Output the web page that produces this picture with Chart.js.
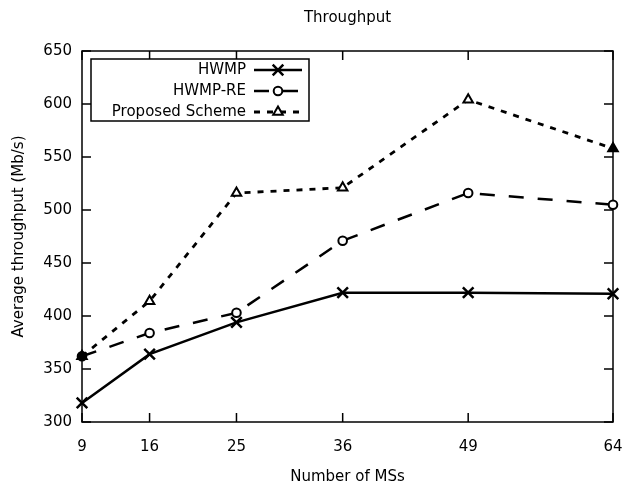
<!DOCTYPE html>
<html><head><meta charset="utf-8">
<script src="https://cdn.jsdelivr.net/npm/chart.js@4.4.1/dist/chart.umd.min.js"></script>
<style>html,body{margin:0;padding:0;background:#fff}</style>
</head><body>
<canvas id="c" width="623" height="484" style="display:block;width:623px;height:484px"></canvas>
<script>
const categories = [9, 16, 25, 36, 49, 64];
const hwmp = [318, 364, 394, 422, 422, 421];
const hwmpRe = [362, 384, 403, 471, 516, 505];
const proposed = [362, 414, 516, 521, 604, 558];
const yTicks = [300, 350, 400, 450, 500, 550, 600, 650];
const seriesNames = ['HWMP', 'HWMP-RE', 'Proposed Scheme'];
const chartTitle = 'Throughput';

const FONT = {family: 'DejaVu Sans', size: 15};
const TICKFONT = {family: 'DejaVu Sans', size: 15};
Chart.defaults.font.family = 'DejaVu Sans';
Chart.defaults.color = '#000';

function pts(vals) { return categories.map((c, i) => ({x: c, y: vals[i]})); }

const framePlugin = {
  id: 'frame',
  beforeDatasetsDraw(chart) {
    const {ctx, chartArea: a, scales: {x, y}} = chart;
    ctx.save();
    ctx.strokeStyle = '#000';
    ctx.lineWidth = 1.5;
    ctx.strokeRect(a.left, a.top, a.right - a.left, a.bottom - a.top);
    const L = 9;
    ctx.beginPath();
    categories.forEach(v => {
      const px = x.getPixelForValue(v);
      ctx.moveTo(px, a.bottom); ctx.lineTo(px, a.bottom - L);
      ctx.moveTo(px, a.top); ctx.lineTo(px, a.top + L);
    });
    yTicks.forEach(v => {
      const py = y.getPixelForValue(v);
      ctx.moveTo(a.left, py); ctx.lineTo(a.left + L, py);
      ctx.moveTo(a.right, py); ctx.lineTo(a.right - L, py);
    });
    ctx.stroke();
    ctx.restore();
  }
};

const legendPlugin = {
  id: 'gpLegend',
  afterDraw(chart) {
    const {ctx, chartArea: a} = chart;
    ctx.save();
    ctx.fillStyle = '#000';
    ctx.font = FONT.size + 'px "DejaVu Sans"';
    ctx.textAlign = 'center';
    ctx.textBaseline = 'middle';
    ctx.fillText(chartTitle, (a.left + a.right) / 2, 18);

    const bx = a.left + 9, by = a.top + 8, bw = 218, bh = 62;
    ctx.fillStyle = '#fff';
    ctx.fillRect(bx, by, bw, bh);
    ctx.strokeStyle = '#000';
    ctx.lineWidth = 1.5;
    ctx.strokeRect(bx, by, bw, bh);
    ctx.textAlign = 'right';
    chart.data.datasets.forEach((ds, i) => {
      const yy = a.top + 19 + i * 21;
      ctx.fillStyle = '#000';
      ctx.fillText(seriesNames[i], a.left + 164, yy);
      ctx.save();
      ctx.strokeStyle = '#000';
      ctx.lineWidth = ds.borderWidth;
      ctx.setLineDash(ds.borderDash || []);
      ctx.beginPath();
      ctx.moveTo(a.left + 172, yy);
      ctx.lineTo(a.left + 220, yy);
      ctx.stroke();
      ctx.restore();
      ctx.save();
      ctx.fillStyle = '#fff';
      ctx.strokeStyle = '#000';
      ctx.lineWidth = ds.pointBorderWidth;
      Chart.helpers.drawPoint(ctx, {pointStyle: ds.pointStyle, radius: ds.pointRadius, rotation: 0, borderWidth: ds.pointBorderWidth}, a.left + 196, yy);
      ctx.restore();
    });
    ctx.restore();
  }
};

new Chart(document.getElementById('c'), {
  type: 'line',
  data: {
    datasets: [
      {label: seriesNames[0], data: pts(hwmp), borderColor: '#000', borderWidth: 2.5,
       pointStyle: 'crossRot', pointRadius: 7.5, pointBorderWidth: 2.5,
       pointBorderColor: '#000', pointBackgroundColor: '#000', tension: 0, fill: false, clip: false},
      {label: seriesNames[1], data: pts(hwmpRe), borderColor: '#000', borderWidth: 2.5, borderDash: [15, 14],
       pointStyle: 'circle', pointRadius: 4.3, pointBorderWidth: 2,
       pointBorderColor: '#000', pointBackgroundColor: ['#000', '#fff', '#fff', '#fff', '#fff', '#fff'], tension: 0, fill: false, clip: false},
      {label: seriesNames[2], data: pts(proposed), borderColor: '#000', borderWidth: 2.8, borderDash: [6, 7],
       pointStyle: 'triangle', pointRadius: 5.5, pointBorderWidth: 2,
       pointBorderColor: '#000', pointBackgroundColor: ['#000', '#fff', '#fff', '#fff', '#fff', '#000'], tension: 0, fill: false, clip: false}
    ]
  },
  options: {
    responsive: false,
    animation: false,
    devicePixelRatio: 1,
    layout: {padding: {left: 0, right: 0, top: 51, bottom: 0}},
    plugins: {
      legend: {display: false},
      tooltip: {enabled: false},
      title: {display: false}
    },
    scales: {
      x: {
        type: 'linear', min: 9, max: 64,
        afterBuildTicks: s => { s.ticks = categories.map(v => ({value: v})); },
        afterFit: s => { s.height = 62; s.paddingLeft = 0; s.paddingRight = 10; },
        ticks: {font: TICKFONT, color: '#000', padding: 16, autoSkip: false, maxRotation: 0, callback: v => String(v)},
        grid: {display: false, drawTicks: false},
        border: {display: false},
        title: {display: true, text: 'Number of MSs', color: '#000', font: FONT, padding: {top: 0, bottom: -2}}
      },
      y: {
        min: 300, max: 650,
        afterBuildTicks: s => { s.ticks = yTicks.map(v => ({value: v})); },
        afterFit: s => { s.width = 82; s.paddingTop = 0; s.paddingBottom = 0; },
        ticks: {font: TICKFONT, color: '#000', padding: 10, callback: v => String(v)},
        grid: {display: false, drawTicks: false},
        border: {display: false},
        title: {display: true, text: 'Average throughput (Mb/s)', color: '#000', font: FONT, padding: {top: 10, bottom: 0}}
      }
    }
  },
  plugins: [framePlugin, legendPlugin]
});
</script>
</body></html>
